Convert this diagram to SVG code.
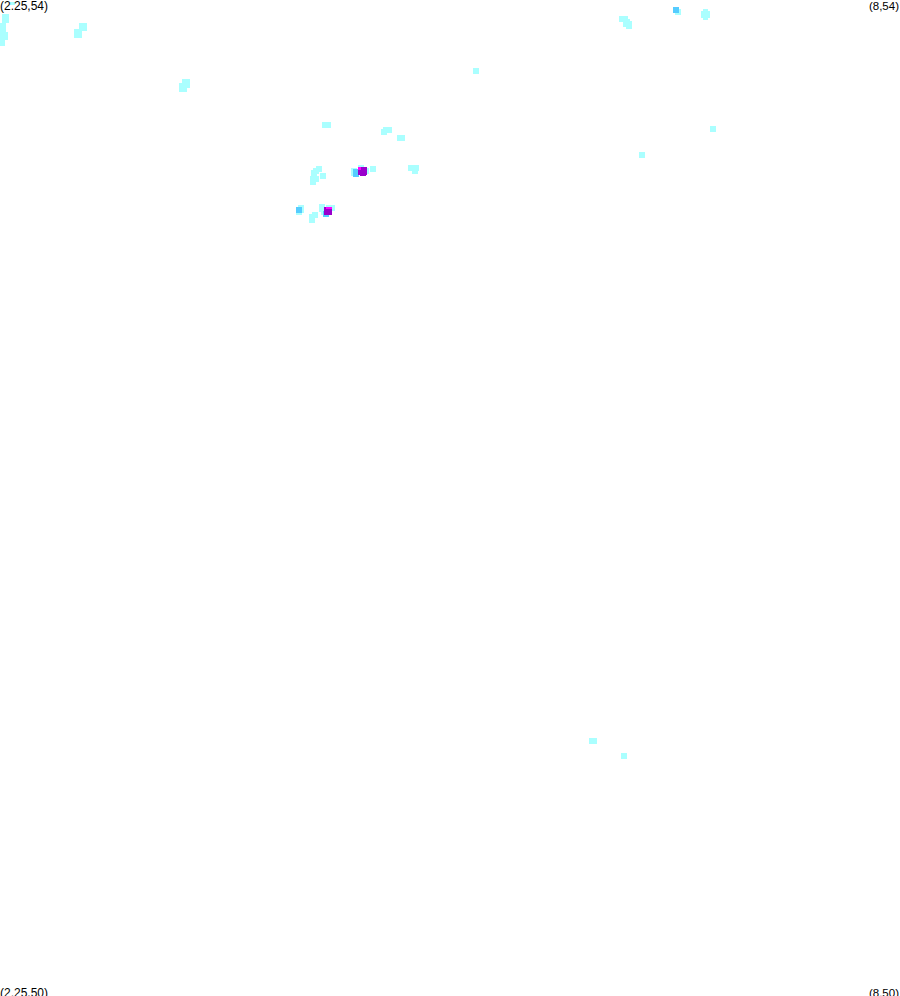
<svg xmlns="http://www.w3.org/2000/svg" width="900" height="996" viewBox="0 0 900 996">
<style>
.p{fill:#aaffff}.b{fill:#55ccff}.v{fill:#9900cc}.m{fill:#ff00ff}
text{font-family:"Liberation Sans",Arial,sans-serif;font-size:12px;fill:#000}
.r{font-size:11.5px;text-anchor:end}
</style>
<rect width="900" height="996" fill="#ffffff"/>
<g id="pale">
<path class="p" d="M10 2h5v3h-5zM2 14h7v9H2zM0 23h6v9H0zM0 32h8v8H0zM0 40h5v6H0z"/>
<path class="p" d="M79 23h8v8h-8zM74 29h8v9h-8zM182 79h8v9h-8zM179 83h8v9h-8z"/>
<path class="p" d="M473 68h6v6h-6zM619 16h9v6h-9zM623 19h7v8h-7zM626 21h6v8h-6zM675 9h6v6h-6zM703 9h5v11h-5zM701 11h9v7h-9z"/>
<path class="p" d="M710 126h6v6h-6zM639 152h6v6h-6zM589 738h8v6h-8zM621 753h6v6h-6z"/>
<path class="p" d="M322 122h9v6h-9zM383 127h9v6h-9zM381 129h6v6h-6zM397 135h8v6h-8z"/>
<path class="p" d="M316 166h6v6h-6zM313 168h6v6h-6zM311 170h6v6h-6zM320 173h6v6h-6zM310 176h9v6h-9zM310 179h6v6h-6z"/>
<path class="p" d="M358 165h6v6h-6zM351 168h6v8h-6zM364 168h5v6h-5zM370 166h6v6h-6zM408 165h11v6h-11zM412 170h6v4h-6z"/>
<path class="p" d="M298 205h6v8h-6zM296 210h6v5h-6zM319 204h6v8h-6zM321 210h6v5h-6zM326 205h9v6h-9zM312 212h6v6h-6zM309 214h6v9h-6z"/>
</g>
<g id="blue">
<path class="b" d="M673 7h6v6h-6zM353 169h6v8h-6zM296 207h6v6h-6zM323 211h6v6h-6z"/>
</g>
<g id="purple">
<path class="v" d="M358 167h9v8h-9zM360 173h6v3h-6zM324 207h8v8h-8z"/>
<path class="m" d="M358 167h3v3h-3zM326 207h6v2h-6z"/>
</g>
<g id="labels">
<text x="0" y="10">(2.25,54)</text>
<text class="r" x="899" y="10">(8,54)</text>
<text x="0" y="997">(2.25,50)</text>
<text class="r" x="899" y="997">(8,50)</text>
</g>
</svg>
